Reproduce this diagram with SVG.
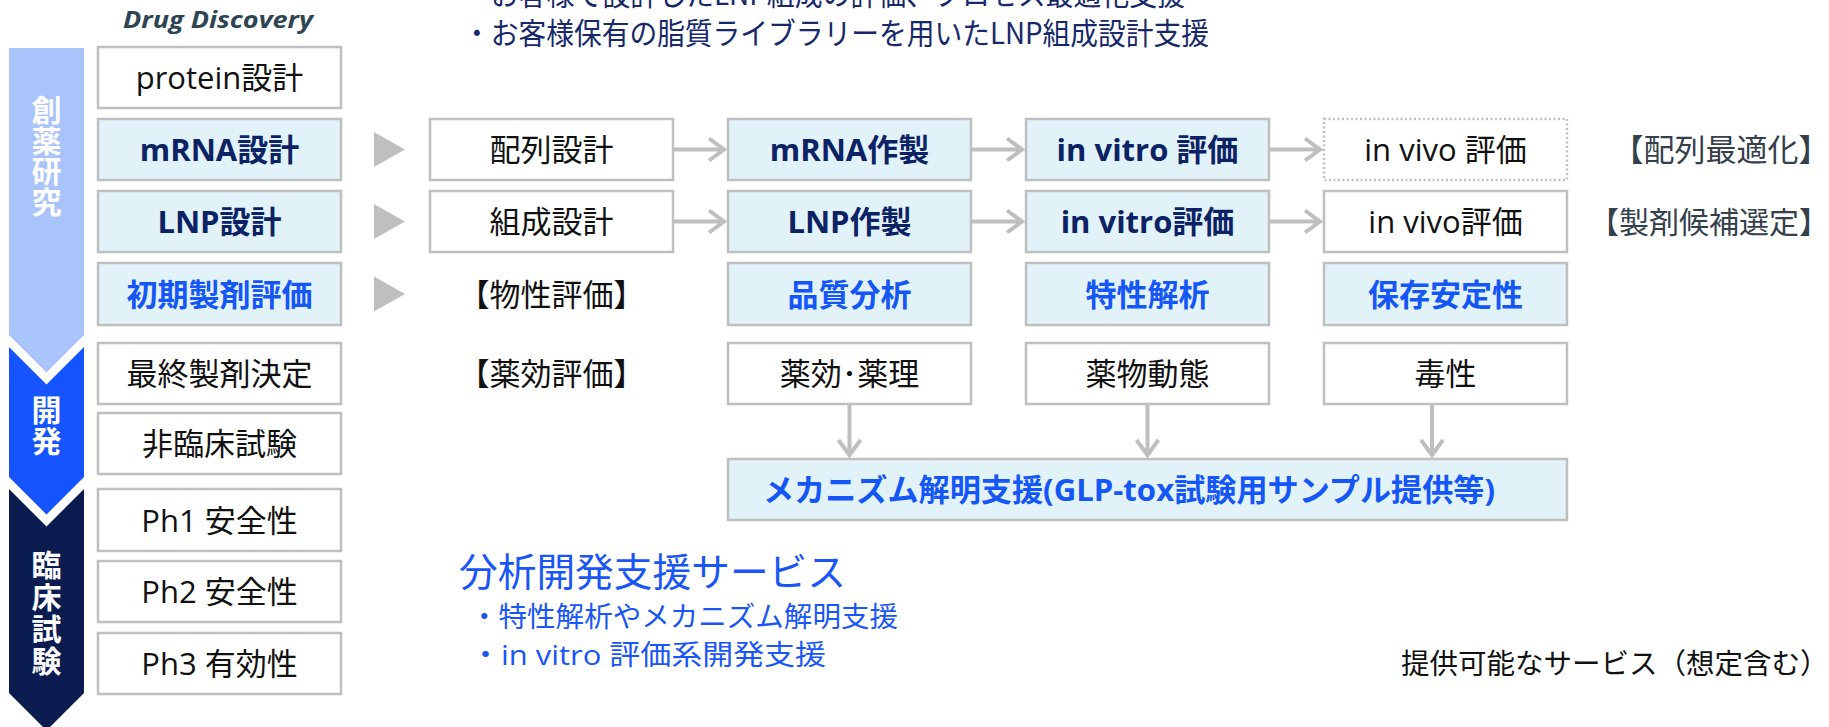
<svg xmlns="http://www.w3.org/2000/svg" width="1829" height="727" viewBox="0 0 1829 727">
<style>
.box{fill:#fff;stroke:#bfbfbf;stroke-width:2.5}
.hl{fill:#e1f2f8;stroke:#bfbfbf;stroke-width:2.5}
.dot{fill:#fff;stroke:#bfbfbf;stroke-width:2.5;stroke-dasharray:2 2.5}
.t{font-family:"Open Sans","Noto Sans CJK JP",sans-serif;font-size:31px;fill:#111;text-anchor:middle}
.bn{font-weight:bold;fill:#0b2265}
.bb{font-weight:bold;fill:#1556f6}
.ch{font-family:"Noto Sans CJK JP",sans-serif;font-size:30px;font-weight:bold;fill:#fff;writing-mode:vertical-rl}
.conn{stroke:#bfbfbf;stroke-width:4;fill:none}
.tri{fill:#bfbfbf}
.navy{font-family:"Noto Sans CJK JP",sans-serif;font-size:30px;fill:#17296a}
.blue{font-family:"Open Sans","Noto Sans CJK JP",sans-serif;fill:#1a56f5}
.lab{font-family:"Noto Sans CJK JP",sans-serif;fill:#34404c}
</style>
<rect width="1829" height="727" fill="#fff"/>

<!-- top texts -->
<text class="navy" x="463" y="5" textLength="722" lengthAdjust="spacingAndGlyphs">・お客様で設計したLNP組成の評価、プロセス最適化支援</text>
<text class="navy" x="463" y="44" textLength="746" lengthAdjust="spacingAndGlyphs">・お客様保有の脂質ライブラリーを用いたLNP組成設計支援</text>

<text x="123" y="28" font-family="'Open Sans',sans-serif" font-size="24" font-weight="bold" font-style="italic" fill="#2d4553" textLength="190" lengthAdjust="spacingAndGlyphs">Drug Discovery</text>

<!-- stage chevrons -->
<g id="stage-research">
<polygon points="9,48 84,48 84,335 46.5,372.5 9,335" fill="#a9c4fa"/>
<text class="ch" x="46.5" y="95" letter-spacing="0.5">創薬研究</text>
</g>
<g id="stage-dev">
<polygon points="9,347 46.5,384.5 84,347 84,477 46.5,514.5 9,477" fill="#1554ff"/>
<text class="ch" x="46.5" y="395" letter-spacing="1">開発</text>
</g>
<g id="stage-clinical">
<polygon points="9,489 46.5,526.5 84,489 84,693 46.5,730.5 9,693" fill="#0a1c50"/>
<text class="ch" x="46.5" y="550" letter-spacing="2">臨床試験</text>
</g>

<!-- left column -->
<g id="n-protein"><rect class="box" x="98" y="47" width="243" height="61"/><text class="t" x="219.5" y="88.5">protein設計</text></g>
<g id="n-mrna"><rect class="hl" x="98" y="119" width="243" height="61"/><text class="t bn" x="219.5" y="160.5">mRNA設計</text></g>
<g id="n-lnp"><rect class="hl" x="98" y="191" width="243" height="61"/><text class="t bn" x="219.5" y="232.5">LNP設計</text></g>
<g id="n-early"><rect class="hl" x="98" y="263" width="243" height="62"/><text class="t bb" x="219.5" y="305.5">初期製剤評価</text></g>
<g id="n-final"><rect class="box" x="98" y="343" width="243" height="61"/><text class="t" x="219.5" y="384.5">最終製剤決定</text></g>
<g id="n-nonclin"><rect class="box" x="98" y="413" width="243" height="61"/><text class="t" x="219.5" y="454.5">非臨床試験</text></g>
<g id="n-ph1"><rect class="box" x="98" y="489" width="243" height="62"/><text class="t" x="219.5" y="531.5">Ph1 安全性</text></g>
<g id="n-ph2"><rect class="box" x="98" y="561" width="243" height="61"/><text class="t" x="219.5" y="602.5">Ph2 安全性</text></g>
<g id="n-ph3"><rect class="box" x="98" y="633" width="243" height="61"/><text class="t" x="219.5" y="674.5">Ph3 有効性</text></g>

<!-- row A -->
<g id="n-seq"><rect class="box" x="430" y="119" width="243" height="61"/><text class="t" x="551.5" y="160.5">配列設計</text></g>
<g id="n-mrnaprep"><rect class="hl" x="728" y="119" width="243" height="61"/><text class="t bn" x="849.5" y="160.5">mRNA作製</text></g>
<g id="n-invitro1"><rect class="hl" x="1026" y="119" width="243" height="61"/><text class="t bn" x="1147.5" y="160.5">in vitro 評価</text></g>
<g id="n-invivo1"><rect class="dot" x="1324" y="119" width="243" height="61"/><text class="t" x="1445.5" y="160.5">in vivo 評価</text></g>
<g id="l-seqopt"><text class="lab" x="1721" y="160.5" font-size="31" text-anchor="middle">【配列最適化】</text></g>

<!-- row B -->
<g id="n-comp"><rect class="box" x="430" y="191" width="243" height="61"/><text class="t" x="551.5" y="232.5">組成設計</text></g>
<g id="n-lnpprep"><rect class="hl" x="728" y="191" width="243" height="61"/><text class="t bn" x="849.5" y="232.5">LNP作製</text></g>
<g id="n-invitro2"><rect class="hl" x="1026" y="191" width="243" height="61"/><text class="t bn" x="1147.5" y="232.5">in vitro評価</text></g>
<g id="n-invivo2"><rect class="box" x="1324" y="191" width="243" height="61"/><text class="t" x="1445.5" y="232.5">in vivo評価</text></g>
<g id="l-cand"><text class="lab" x="1829" y="232.5" font-size="30" text-anchor="end">【製剤候補選定】</text></g>

<!-- row C -->
<g id="l-phys"><text class="t" x="551.5" y="305.5">【物性評価】</text></g>
<g id="n-quality"><rect class="hl" x="728" y="263" width="243" height="62"/><text class="t bb" x="849.5" y="305.5">品質分析</text></g>
<g id="n-charact"><rect class="hl" x="1026" y="263" width="243" height="62"/><text class="t bb" x="1147.5" y="305.5">特性解析</text></g>
<g id="n-stability"><rect class="hl" x="1324" y="263" width="243" height="62"/><text class="t bb" x="1445.5" y="305.5">保存安定性</text></g>

<!-- row D -->
<g id="l-pharm"><text class="t" x="551.5" y="384.5">【薬効評価】</text></g>
<g id="n-efficacy"><rect class="box" x="728" y="343" width="243" height="61"/><text class="t" x="849.5" y="384.5">薬効･薬理</text></g>
<g id="n-pk"><rect class="box" x="1026" y="343" width="243" height="61"/><text class="t" x="1147.5" y="384.5">薬物動態</text></g>
<g id="n-tox"><rect class="box" x="1324" y="343" width="243" height="61"/><text class="t" x="1445.5" y="384.5">毒性</text></g>

<!-- mechanism -->
<g id="n-mech"><rect class="hl" x="728" y="459" width="839" height="61"/><text class="t bb" x="1129" y="500.5" textLength="732" lengthAdjust="spacingAndGlyphs">メカニズム解明支援(GLP-tox試験用サンプル提供等)</text></g>

<!-- connectors -->
<g id="connectors">
<polygon class="tri" points="374,132 405,149.5 374,167"/>
<polygon class="tri" points="374,204 405,221.5 374,239"/>
<polygon class="tri" points="374,276.5 405,294 374,311.5"/>
<path class="conn" d="M674,149.5H724M709,138.5L724,149.5L709,160.5"/>
<path class="conn" d="M972,149.5H1022M1007,138.5L1022,149.5L1007,160.5"/>
<path class="conn" d="M1270,149.5H1320M1305,138.5L1320,149.5L1305,160.5"/>
<path class="conn" d="M674,221.5H724M709,210.5L724,221.5L709,232.5"/>
<path class="conn" d="M972,221.5H1022M1007,210.5L1022,221.5L1007,232.5"/>
<path class="conn" d="M1270,221.5H1320M1305,210.5L1320,221.5L1305,232.5"/>
<path class="conn" d="M849.5,405V455M838.5,440L849.5,455L860.5,440"/>
<path class="conn" d="M1147.5,405V455M1136.5,440L1147.5,455L1158.5,440"/>
<path class="conn" d="M1432,405V455M1421,440L1432,455L1443,440"/>
</g>

<!-- bottom texts -->
<text class="blue" x="459" y="586" font-size="39" textLength="387" lengthAdjust="spacingAndGlyphs">分析開発支援サービス</text>
<text class="blue" x="470" y="627" font-size="28" textLength="428" lengthAdjust="spacingAndGlyphs">・特性解析やメカニズム解明支援</text>
<text class="blue" x="470" y="665" font-size="28" textLength="356" lengthAdjust="spacingAndGlyphs">・in vitro 評価系開発支援</text>
<text x="1401" y="674" font-family="'Noto Sans CJK JP',sans-serif" font-size="28.5" fill="#111">提供可能なサービス（想定含む）</text>
</svg>
